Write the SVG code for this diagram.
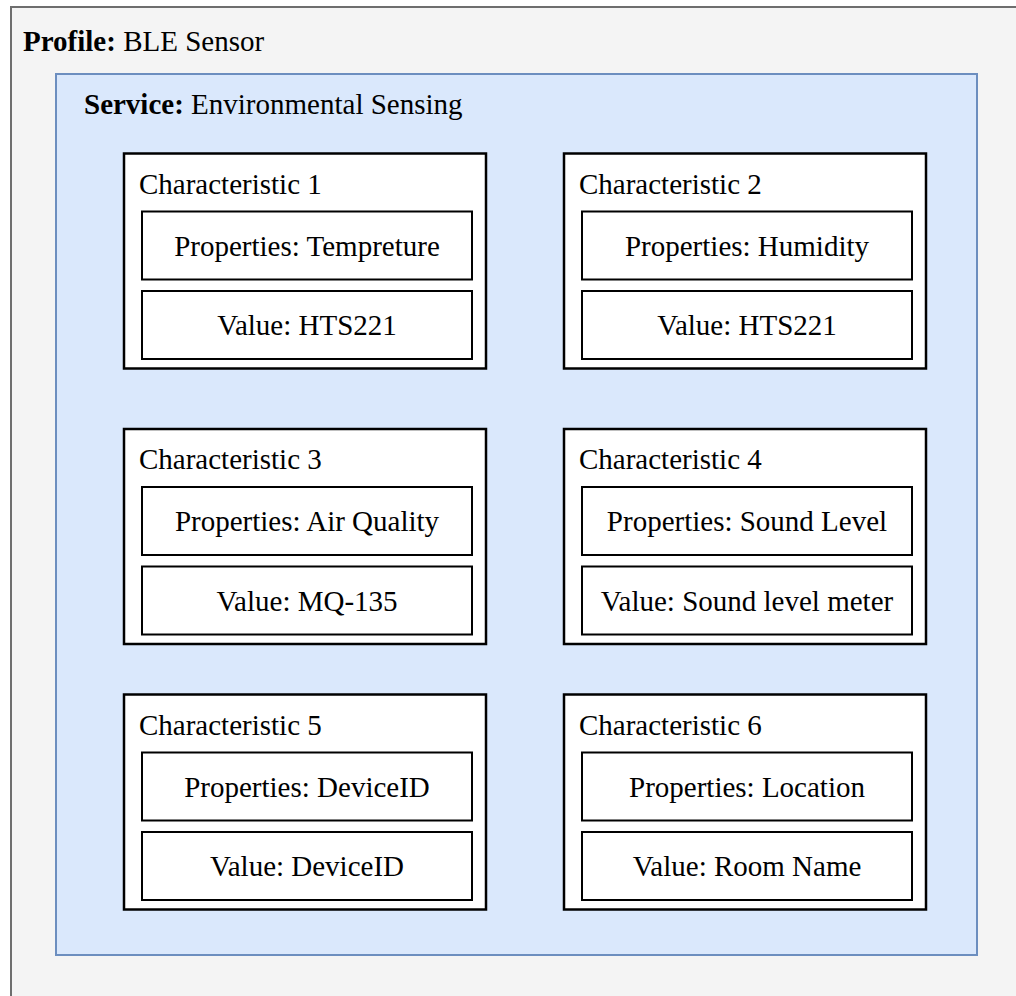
<svg xmlns="http://www.w3.org/2000/svg" width="1016" height="996" viewBox="0 0 1016 996">
  <style>
    text { font-family: "Liberation Serif", "Times New Roman", serif; font-size: 29px; fill: #000; }
    .b { font-weight: bold; }
    .mid { text-anchor: middle; }
    .profile { fill: #f4f4f4; stroke: #6e6e6e; stroke-width: 2; }
    .service { fill: #dae8fc; stroke: #6c8ebf; stroke-width: 2; }
    .char { fill: #ffffff; stroke: #000; stroke-width: 2.5; }
    .field { fill: #ffffff; stroke: #000; stroke-width: 2; }
  </style>

  <g id="profile">
    <rect class="profile" x="11" y="7" width="1030" height="1010"/>
    <text x="23" y="51"><tspan class="b">Profile:</tspan> BLE Sensor</text>
  </g>

  <g id="service">
    <rect class="service" x="56" y="74" width="921" height="881"/>
    <text x="84" y="114"><tspan class="b">Service:</tspan> Environmental Sensing</text>
  </g>

  <g id="char1" transform="translate(124,153.5)">
    <rect class="char" x="0" y="0" width="362" height="215"/>
    <text x="15" y="40">Characteristic 1</text>
    <rect class="field" x="18" y="58" width="330" height="68"/>
    <text class="mid" x="183" y="102">Properties: Tempreture</text>
    <rect class="field" x="18" y="137.5" width="330" height="68"/>
    <text class="mid" x="183" y="181.5">Value: HTS221</text>
  </g>

  <g id="char2" transform="translate(564,153.5)">
    <rect class="char" x="0" y="0" width="362" height="215"/>
    <text x="15" y="40">Characteristic 2</text>
    <rect class="field" x="18" y="58" width="330" height="68"/>
    <text class="mid" x="183" y="102">Properties: Humidity</text>
    <rect class="field" x="18" y="137.5" width="330" height="68"/>
    <text class="mid" x="183" y="181.5">Value: HTS221</text>
  </g>

  <g id="char3" transform="translate(124,429)">
    <rect class="char" x="0" y="0" width="362" height="215"/>
    <text x="15" y="40">Characteristic 3</text>
    <rect class="field" x="18" y="58" width="330" height="68"/>
    <text class="mid" x="183" y="102">Properties: Air Quality</text>
    <rect class="field" x="18" y="137.5" width="330" height="68"/>
    <text class="mid" x="183" y="181.5">Value: MQ-135</text>
  </g>

  <g id="char4" transform="translate(564,429)">
    <rect class="char" x="0" y="0" width="362" height="215"/>
    <text x="15" y="40">Characteristic 4</text>
    <rect class="field" x="18" y="58" width="330" height="68"/>
    <text class="mid" x="183" y="102">Properties: Sound Level</text>
    <rect class="field" x="18" y="137.5" width="330" height="68"/>
    <text class="mid" x="183" y="181.5">Value: Sound level meter</text>
  </g>

  <g id="char5" transform="translate(124,694.5)">
    <rect class="char" x="0" y="0" width="362" height="215"/>
    <text x="15" y="40">Characteristic 5</text>
    <rect class="field" x="18" y="58" width="330" height="68"/>
    <text class="mid" x="183" y="102">Properties: DeviceID</text>
    <rect class="field" x="18" y="137.5" width="330" height="68"/>
    <text class="mid" x="183" y="181.5">Value: DeviceID</text>
  </g>

  <g id="char6" transform="translate(564,694.5)">
    <rect class="char" x="0" y="0" width="362" height="215"/>
    <text x="15" y="40">Characteristic 6</text>
    <rect class="field" x="18" y="58" width="330" height="68"/>
    <text class="mid" x="183" y="102">Properties: Location</text>
    <rect class="field" x="18" y="137.5" width="330" height="68"/>
    <text class="mid" x="183" y="181.5">Value: Room Name</text>
  </g>

  <g id="connectors"/>
</svg>
